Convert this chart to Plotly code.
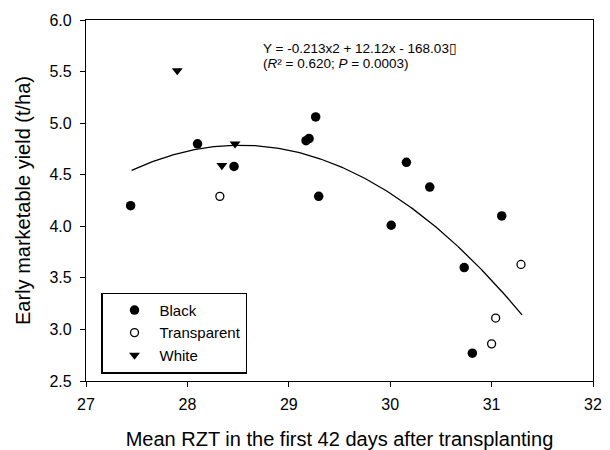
import numpy as np
import plotly.graph_objects as go

# ---- data ----
black_x = [27.44, 28.10, 28.46, 29.17, 29.20, 29.265, 29.295, 30.01, 30.16, 30.39, 30.73, 30.81, 31.10]
black_y = [4.20, 4.80, 4.58, 4.83, 4.85, 5.06, 4.29, 4.01, 4.62, 4.38, 3.60, 2.77, 4.10]

transparent_x = [28.32, 31.00, 31.04, 31.29]
transparent_y = [4.29, 2.86, 3.11, 3.63]

white_x = [27.90, 28.34, 28.47]
white_y = [5.51, 4.59, 4.80]

# quadratic fit as drawn (a, b, c) and its x span
fit_coef = [-0.213, 12.15, -168.48]
fit_x_span = [27.45, 31.30]

x_ticks = [27, 28, 29, 30, 31, 32]
y_ticks = [2.5, 3.0, 3.5, 4.0, 4.5, 5.0, 5.5, 6.0]

FONT = "Liberation Sans, Arial, sans-serif"

fit_x = np.linspace(fit_x_span[0], fit_x_span[1], 200)
fit_y = np.polyval(fit_coef, fit_x)

fig = go.Figure()
fig.add_trace(go.Scatter(x=fit_x, y=fit_y, mode="lines",
                         line=dict(color="black", width=1.3), showlegend=False,
                         hoverinfo="skip"))
fig.add_trace(go.Scatter(x=black_x, y=black_y, mode="markers", name="Black",
                         marker=dict(symbol="circle", size=9.5, color="black",
                                     line=dict(width=0))))
fig.add_trace(go.Scatter(x=transparent_x, y=transparent_y, mode="markers", name="Transparent",
                         marker=dict(symbol="circle-open", size=8, color="black",
                                     line=dict(width=1.3, color="black"))))
fig.add_trace(go.Scatter(x=white_x, y=white_y, mode="markers", name="White",
                         marker=dict(symbol="triangle-down", size=9.5, color="black",
                                     line=dict(width=0))))

axis_common = dict(showline=True, linecolor="black", linewidth=1.3, mirror=True,
                   ticks="outside", ticklen=5, tickwidth=1.3, tickcolor="black",
                   showgrid=False, zeroline=False, automargin=False,
                   tickfont=dict(family=FONT, size=16, color="black"))

fig.update_xaxes(range=[27, 32], tickvals=x_ticks, ticktext=[str(v) for v in x_ticks],
                 title=dict(text="Mean RZT in the first 42 days after transplanting",
                            font=dict(family=FONT, size=20, color="black"), standoff=24),
                 ticklabelstandoff=4,
                 **axis_common)
fig.update_yaxes(range=[2.5, 6.0], tickvals=y_ticks, ticktext=[f"{v:.1f}" for v in y_ticks],
                 title=dict(text="Early marketable yield (t/ha)",
                            font=dict(family=FONT, size=20, color="black"), standoff=13),
                 ticklabelstandoff=5,
                 **axis_common)

fig.add_annotation(x=28.73, y=5.725, xref="x", yref="y", xanchor="left", yanchor="middle",
                   text="Y = -0.213x2 + 12.12x - 168.03\u25AF", showarrow=False,
                   font=dict(family=FONT, size=13.5, color="black"))
fig.add_annotation(x=28.73, y=5.58, xref="x", yref="y", xanchor="left", yanchor="middle",
                   text="(<i>R</i>\u00b2 = 0.620; <i>P</i> = 0.0003)", showarrow=False,
                   font=dict(family=FONT, size=13.5, color="black"))

fig.update_layout(
    width=610, height=450,
    margin=dict(l=86, r=17, t=20, b=69),
    paper_bgcolor="white", plot_bgcolor="white",
    font=dict(family=FONT, color="black"),
    legend=dict(x=0.03, y=0.245, xanchor="left", yanchor="top",
                bgcolor="white", bordercolor="black", borderwidth=1.3,
                font=dict(family=FONT, size=15, color="black"),
                indentation=7, itemwidth=40, tracegroupgap=0),
)

fig.write_html("out.html", config={"displayModeBar": False},
               post_script="document.body.style.margin='0';document.body.style.overflow='hidden';")
